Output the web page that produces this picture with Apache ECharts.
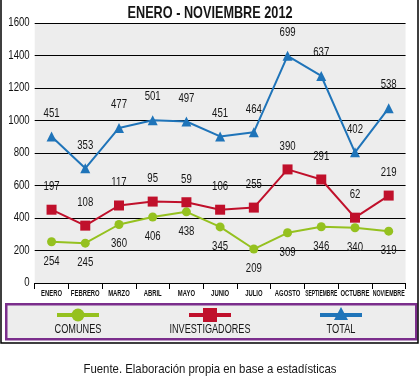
<!DOCTYPE html>
<html><head><meta charset="utf-8">
<script src="https://cdn.jsdelivr.net/npm/echarts@6/dist/echarts.min.js"></script>
<style>html,body{margin:0;padding:0;background:#fff}#c{width:420px;height:380px}</style>
</head><body><div id="c"></div>
<script>
const categories = ['ENERO','FEBRERO','MARZO','ABRIL','MAYO','JUNIO','JULIO','AGOSTO','SEPTIEMBRE','OCTUBRE','NOVIEMBRE'];
const comunes = [254,245,360,406,438,345,209,309,346,340,319];
const investigadores = [197,108,117,95,59,106,255,390,291,62,219];
const total = [451,353,477,501,497,451,464,699,637,402,538];
const yTicks = [0,200,400,600,800,1000,1200,1400,1600];
const seriesNames = ['COMUNES','INVESTIGADORES','TOTAL'];
const seriesColors = ['#95c11f','#c0102b','#1f74b9'];
const titleText = 'ENERO - NOVIEMBRE 2012';
const sourceText = 'Fuente. Elaboración propia en base a estadísticas';

const F = '"Liberation Sans", Arial, sans-serif';
const mctx = document.createElement('canvas').getContext('2d');
function fit(text, font, target) { mctx.font = font + ' ' + F; return target / mctx.measureText(text).width; }
function gtext(text, x, y, size, weight, target) {
  const font = weight + ' ' + size + 'px';
  return {type:'text', x:x, y:y, scaleX:fit(text, font, target), silent:true,
    style:{text:text, font:font + ' ' + F, fill:'#161616', textAlign:'center', textVerticalAlign:'middle'}};
}
// legend keys (decoration, not data)
function legendKey(i, cx, cy) {
  const c = seriesColors[i];
  const marker = i === 0 ? {type:'circle', shape:{cx:cx, cy:cy, r:6.5}, style:{fill:c}}
    : i === 1 ? {type:'rect', shape:{x:cx-7, y:cy-7, width:14, height:14}, style:{fill:c}}
    : {type:'polygon', shape:{points:[[cx, cy-8],[cx+7, cy+5],[cx-7, cy+5]]}, style:{fill:c}};
  return [{type:'line', shape:{x1:cx-21, y1:cy, x2:cx+21, y2:cy}, style:{stroke:c, lineWidth:4}, silent:true},
          Object.assign(marker, {silent:true})];
}
const keyX = [78, 210, 341];

const chart = echarts.init(document.getElementById('c'), null, {renderer:'canvas'});
const lbl = (pos, dist) => ({show:true, position:pos, distance:dist, fontFamily:F, fontSize:12, color:'#161616'});
chart.setOption({
  animation:false,
  backgroundColor:'#fff',
  grid:{left:32, right:7, top:23, bottom:97, show:true, backgroundColor:'#ededed', borderWidth:0},
  xAxis:{type:'category', data:categories, boundaryGap:true,
    axisLine:{lineStyle:{color:'#000', width:1}},
    axisTick:{show:true, length:6, lineStyle:{color:'#000'}},
    axisLabel:{interval:0, fontFamily:F, fontWeight:'bold', fontSize:9.5, color:'#111', margin:5}},
  yAxis:{type:'value', min:yTicks[0], max:yTicks[yTicks.length-1], interval:200,
    axisLine:{show:false}, axisTick:{show:false},
    splitLine:{lineStyle:{color:'#000', width:1}},
    axisLabel:{fontFamily:F, fontSize:12, color:'#111', margin:5, formatter:v=>String(v)}},
  graphic:[
    {type:'polyline', shape:{points:[[1,0],[1,343],[418,343],[418,0]]}, style:{fill:'none', stroke:'#000', lineWidth:1.5}, silent:true},
    {type:'rect', left:5, top:303, shape:{width:410, height:35}, style:{fill:'#ededed', stroke:'#7b2e8c', lineWidth:2.5}, z:-1, silent:true},
    gtext(titleText, 210, 13, 17, 'bold', 165),
    ...legendKey(0, keyX[0], 315), ...legendKey(1, keyX[1], 315), ...legendKey(2, keyX[2], 315),
    gtext(seriesNames[0], keyX[0], 330, 12.5, 'normal', 47),
    gtext(seriesNames[1], keyX[1], 330, 12.5, 'normal', 81),
    gtext(seriesNames[2], keyX[2], 330, 12.5, 'normal', 29),
    gtext(sourceText, 210, 369, 13, 'normal', 253)
  ],
  series:[
    {name:seriesNames[0], type:'line', stack:'s', data:comunes, symbol:'circle', symbolSize:9,
     itemStyle:{color:seriesColors[0]}, lineStyle:{width:2, color:seriesColors[0]}, label:lbl('bottom',9)},
    {name:seriesNames[1], type:'line', stack:'s', data:investigadores, symbol:'rect', symbolSize:10,
     itemStyle:{color:seriesColors[1]}, lineStyle:{width:2, color:seriesColors[1]}, label:lbl('top',12)},
    {name:seriesNames[2], type:'line', stack:'s', data:total, symbol:'triangle', symbolSize:10,
     itemStyle:{color:seriesColors[2]}, lineStyle:{width:2, color:seriesColors[2]}, label:lbl('top',12)}
  ]
});

// condense axis / data label text (the reference uses a condensed typeface)
const mine = new Set([titleText, sourceText].concat(seriesNames));
function condense() {
  const zr = chart.getZr();
  const visit = el => {
    if (!el) return;
    if (el.type === 'text' && el.style && el.style.text != null && !mine.has(el.style.text)) {
      const t = String(el.style.text);
      if (categories.indexOf(t) >= 0) {
        const w = el.getBoundingRect().width;
        el.scaleX = Math.min(0.62, 32 / w);
        el.dirty && el.dirty();
        el.markRedraw();
      } else if (/^\d+$/.test(t)) {
        el.scaleX = 0.8;
        el.markRedraw();
      }
    }
    if (el.getTextContent) visit(el.getTextContent());
    if (el.isGroup && el.eachChild) el.eachChild(visit);
  };
  zr.storage.getRoots().forEach(visit);
  zr.refresh();
}
condense();
let n = 0;
chart.on('finished', () => { if (n++ < 2) condense(); });
</script></body></html>
